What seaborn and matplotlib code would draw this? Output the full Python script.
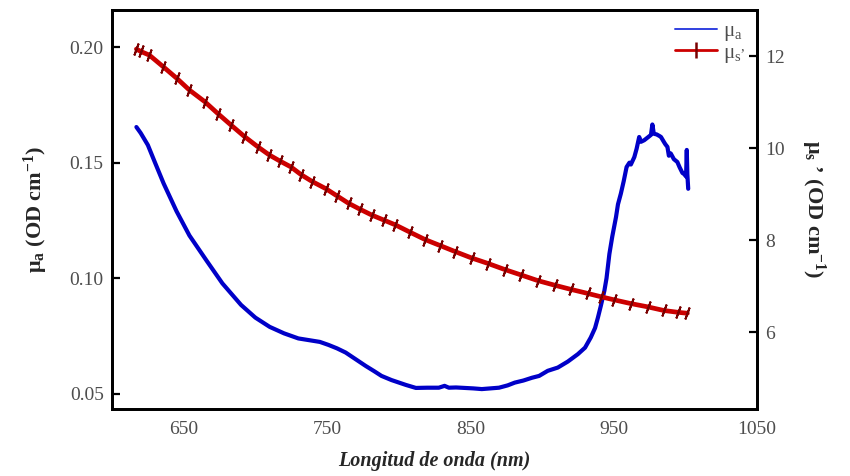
import numpy as np
import pandas as pd
import matplotlib
matplotlib.use("Agg")
import matplotlib.pyplot as plt
from matplotlib.lines import Line2D
import seaborn as sns

# ---- data ----
wl_a = [617, 620, 625, 630, 636, 645, 654, 666, 677, 690, 700, 710, 720, 730, 738, 745,
        751, 757, 763, 770, 777, 783, 788, 795, 805, 812, 820, 828, 832, 835, 840, 846,
        852, 858, 864, 870, 876, 881, 887, 893, 898, 904, 911, 918, 925, 930, 934, 937,
        939, 941, 943.5, 945, 947, 949, 951.6, 953, 955, 957, 959, 961, 962, 964.4, 966,
        967.8, 969, 971.3, 974, 976, 977, 978, 980, 982, 983, 985, 986, 987.5, 988.5,
        989.8, 992, 994.4, 996, 998, 999, 1000.5, 1001, 1001.4, 1002]
mu_a = [0.1654, 0.1628, 0.1576, 0.1500, 0.1410, 0.1290, 0.1185, 0.1076, 0.0978, 0.0885,
        0.0830, 0.0790, 0.0762, 0.0740, 0.0732, 0.0725, 0.0712, 0.0697, 0.0679, 0.0650,
        0.0621, 0.0598, 0.0578, 0.0560, 0.0539, 0.0526, 0.0527, 0.0527, 0.0535, 0.0527,
        0.0528, 0.0526, 0.0524, 0.0521, 0.0524, 0.0527, 0.0537, 0.0549, 0.0558, 0.0570,
        0.0578, 0.0600, 0.0614, 0.0640, 0.0672, 0.0700, 0.0744, 0.0785, 0.0830, 0.0880,
        0.0946, 0.1000, 0.1105, 0.1180, 0.1264, 0.1320, 0.1366, 0.1420, 0.1481, 0.1500,
        0.1492, 0.1524, 0.1560, 0.1611, 0.1590, 0.1597, 0.1610, 0.1620, 0.1665, 0.1625,
        0.1622, 0.1615, 0.1611, 0.1590, 0.1580, 0.1568, 0.1530, 0.1540, 0.1515, 0.1503,
        0.1480, 0.1455, 0.1452, 0.1440, 0.1555, 0.1450, 0.1387]

wl_s = [617, 620, 626, 635.6, 645, 654, 664.6, 673.8, 683, 692.4, 701.6, 709.7, 717,
        724.8, 732, 739.8, 749, 757, 765, 773, 781.5, 790, 797.7, 808, 818.5, 829, 839.4,
        851, 862.5, 874, 885.6, 897, 908.8, 920, 932, 941, 950.5, 962, 973.6, 985, 995,
        1001.4]
mu_s = [12.15, 12.10, 12.02, 11.77, 11.52, 11.26, 11.01, 10.75, 10.50, 10.25, 10.03, 9.85,
        9.72, 9.59, 9.42, 9.27, 9.12, 8.96, 8.80, 8.67, 8.54, 8.43, 8.33, 8.17, 8.01, 7.88,
        7.75, 7.61, 7.49, 7.36, 7.24, 7.12, 7.02, 6.93, 6.84, 6.77, 6.70, 6.62, 6.55, 6.47,
        6.43, 6.41]

x_ticks = [650, 750, 850, 950, 1050]
left_ticks = [0.05, 0.10, 0.15, 0.20]
right_ticks = [6, 8, 10, 12]

df_a = pd.DataFrame({"wl": wl_a, "mua": mu_a})
df_s = pd.DataFrame({"wl": wl_s, "mus": mu_s})

sns.set_theme(style="white")
plt.rcParams["font.family"] = ["Liberation Serif", "DejaVu Serif"]
plt.rcParams["mathtext.fontset"] = "custom"
plt.rcParams["mathtext.rm"] = "Liberation Serif"
plt.rcParams["mathtext.it"] = "Liberation Serif:italic"
plt.rcParams["mathtext.bf"] = "Liberation Serif:bold"

BLUE = "#0000c8"
RED = "#cc0000"
DRED = "#7a0000"
TICKC = "#4d4d4d"

fig = plt.figure(figsize=(8.5, 4.76), dpi=100)
ax = fig.add_axes([0.1318, 0.1408, 0.7588, 0.8382])
ax2 = ax.twinx()

sns.lineplot(data=df_a, x="wl", y="mua", ax=ax, color=BLUE, linewidth=3.0,
             estimator=None, sort=False, legend=False)
sns.lineplot(data=df_s, x="wl", y="mus", ax=ax2, color=RED, linewidth=3.4,
             estimator=None, sort=False, legend=False)
ax2.plot(df_s["wl"], df_s["mus"], linestyle="none", marker=(2, 2, -20),
         markersize=9, markeredgewidth=1.4, color=DRED)

ax.set_xlim(600, 1050)
ax.set_ylim(0.0435, 0.216)
ax2.set_ylim(4.33, 13.0)
ax.set_xticks(x_ticks)
ax.set_xticklabels([str(t) for t in x_ticks])
ax.set_yticks(left_ticks)
ax.set_yticklabels([f"{t:.2f}" for t in left_ticks])
ax2.set_yticks(right_ticks)
ax2.set_yticklabels([str(t) for t in right_ticks])

for a in (ax, ax2):
    for s in a.spines.values():
        s.set_visible(True)
        s.set_color("black")
        s.set_linewidth(2.0)
    a.tick_params(direction="in", length=6, width=1.6, colors="black",
                  labelcolor=TICKC, labelsize=14, pad=6)
ax.tick_params(axis="x", pad=9)
ax.grid(False)
ax2.grid(False)

ax.set_xlabel("Longitud de onda (nm)", fontsize=14.5, fontweight="bold",
              fontstyle="italic", labelpad=9)
ax.set_ylabel(r"μ$_{\mathbf{a}}$ (OD cm$^{\mathbf{-1}}$)", fontsize=16,
              fontweight="bold", labelpad=14)
ax2.set_ylabel(r"μ$_{\mathbf{s}}$ ’ (OD cm$^{\mathbf{-1}}$)", fontsize=16,
               fontweight="bold", rotation=270, labelpad=30)

handles = [Line2D([], [], color="#3040e0", linewidth=1.4),
           Line2D([], [], color=RED, linewidth=2.0, marker="|", markersize=11,
                  markeredgewidth=1.8, markeredgecolor=DRED, markevery=[1, 2])]
handles[1].set_xdata([0, 0.36, 0.64, 1])
leg = ax.legend(handles, [r"μ$_{\mathrm{a}}$", r"μ$_{\mathrm{s}}$$^{,}$"],
                loc="upper right", frameon=False, fontsize=15, handlelength=2.0,
                handletextpad=0.3, labelspacing=0.0, borderaxespad=0.15)
for t in leg.get_texts():
    t.set_color(TICKC)

fig.savefig("out.png", dpi=100)
